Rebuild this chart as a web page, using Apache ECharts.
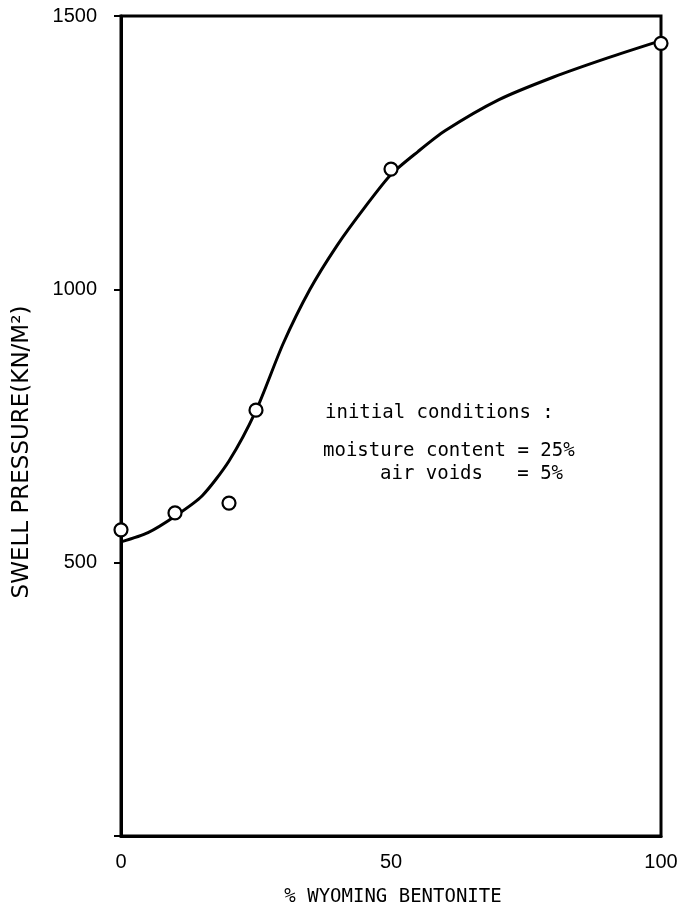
<!DOCTYPE html>
<html>
<head>
<meta charset="utf-8">
<script src="https://cdn.jsdelivr.net/npm/echarts@6/dist/echarts.min.js"></script>
<style>html,body{margin:0;padding:0;background:#fff;}#c{width:681px;height:911px;}</style>
</head>
<body>
<div id="c"></div>
<script>
// Measured points (% Wyoming bentonite, swell pressure kN/m2)
const pointX = [0, 10, 20, 25, 50, 100];
const pointY = [560, 591, 609, 779, 1220, 1450];
// Hand-drawn fitted curve
const curveX = [0, 5, 10, 15, 20, 25, 30, 35, 40, 45, 50, 55, 60, 70, 80, 90, 100];
const curveY = [538, 555, 585, 622, 686, 778, 900, 1000, 1080, 1148, 1210, 1252, 1290, 1347, 1388, 1423, 1455];
const xTicks = [0, 50, 100];
const yTicks = [500, 1000, 1500];
const noteLines = ['initial conditions :', 'moisture content = 25%', 'air voids   = 5%'];

const chart = echarts.init(document.getElementById('c'));
const tickFont = 'Liberation Sans';
chart.setOption({
  animation: false,
  backgroundColor: '#fff',
  grid: { left: 121, right: 20, top: 16, bottom: 75, show: true, borderColor: '#000', borderWidth: 3, backgroundColor: 'transparent' },
  xAxis: {
    type: 'value', min: 0, max: 100, interval: 50,
    axisLine: { show: true, lineStyle: { color: '#000', width: 3 } },
    axisTick: { show: false },
    splitLine: { show: false },
    axisLabel: { color: '#000', fontSize: 20, fontFamily: tickFont, margin: 16,
      formatter: v => xTicks.includes(v) ? String(v) : '' }
  },
  yAxis: {
    type: 'value', min: 0, max: 1500, interval: 500,
    axisLine: { show: true, lineStyle: { color: '#000', width: 3 } },
    axisTick: { show: true, length: 7, lineStyle: { color: '#000', width: 2 } },
    splitLine: { show: false },
    axisLabel: { color: '#000', fontSize: 20, fontFamily: tickFont, margin: 24,
      formatter: v => yTicks.includes(v) ? String(v) : '' }
  },
  series: [
    {
      type: 'line', data: curveX.map((x, i) => [x, curveY[i]]),
      smooth: 0.25, showSymbol: false, symbol: 'none',
      lineStyle: { color: '#000', width: 3 }, z: 2
    },
    {
      type: 'scatter', data: pointX.map((x, i) => [x, pointY[i]]),
      symbol: 'circle', symbolSize: 13,
      itemStyle: { color: '#fff', opacity: 1, borderColor: '#000', borderWidth: 2.2 }, z: 3
    }
  ],
  graphic: [
    { type: 'text', x: 22, y: 452, rotation: Math.PI / 2,
      style: { text: 'SWELL PRESSURE(KN/M²)', font: '23px "DejaVu Sans"', fill: '#000', align: 'center', verticalAlign: 'middle' } },
    { type: 'text', x: 393, y: 897,
      style: { text: '% WYOMING BENTONITE', font: '19px "DejaVu Sans Mono"', fill: '#000', align: 'center', verticalAlign: 'middle' } },
    { type: 'text', x: 325, y: 413,
      style: { text: noteLines[0], font: '19px "DejaVu Sans Mono"', fill: '#000', align: 'left', verticalAlign: 'middle' } },
    { type: 'text', x: 323, y: 451,
      style: { text: noteLines[1], font: '19px "DejaVu Sans Mono"', fill: '#000', align: 'left', verticalAlign: 'middle' } },
    { type: 'text', x: 380, y: 474,
      style: { text: noteLines[2], font: '19px "DejaVu Sans Mono"', fill: '#000', align: 'left', verticalAlign: 'middle' } }
  ]
});
</script>
</body>
</html>
